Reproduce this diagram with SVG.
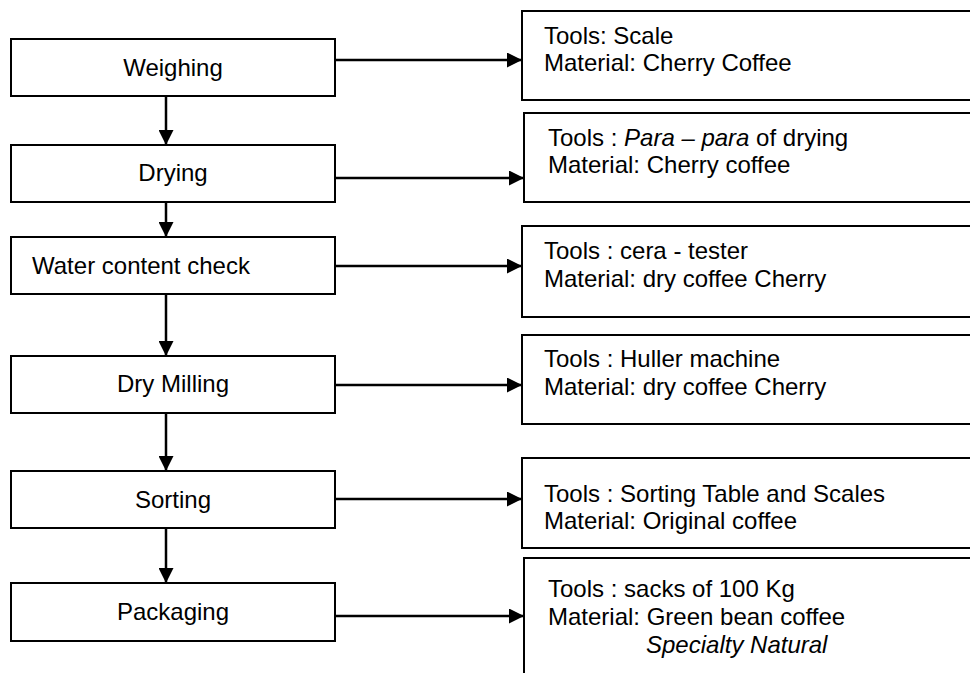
<svg xmlns="http://www.w3.org/2000/svg" width="970" height="673" viewBox="0 0 970 673">
<style>
.box{fill:#fff;stroke:#000;stroke-width:2}
.t{font-family:"Liberation Sans",Arial,sans-serif;font-size:24px;fill:#000}
.c{text-anchor:middle}
.conn{stroke:#000;stroke-width:2.5;fill:none}
</style>
<defs>
<marker id="ah" viewBox="0 0 10 10" refX="10" refY="5" markerUnits="userSpaceOnUse" markerWidth="15" markerHeight="15" orient="auto">
<path d="M0,0 L10,5 L0,10 z" fill="#000"/>
</marker>
</defs>
<rect width="970" height="673" fill="#fff"/>
<g id="connectors">
<line class="conn" x1="166" y1="96" x2="166" y2="145" marker-end="url(#ah)"/>
<line class="conn" x1="166" y1="202" x2="166" y2="237" marker-end="url(#ah)"/>
<line class="conn" x1="166" y1="294" x2="166" y2="356" marker-end="url(#ah)"/>
<line class="conn" x1="166" y1="413" x2="166" y2="471" marker-end="url(#ah)"/>
<line class="conn" x1="166" y1="528" x2="166" y2="583" marker-end="url(#ah)"/>
<line class="conn" x1="335" y1="60" x2="522" y2="60" marker-end="url(#ah)"/>
<line class="conn" x1="335" y1="178" x2="524" y2="178" marker-end="url(#ah)"/>
<line class="conn" x1="335" y1="266" x2="522" y2="266" marker-end="url(#ah)"/>
<line class="conn" x1="335" y1="385" x2="522" y2="385" marker-end="url(#ah)"/>
<line class="conn" x1="335" y1="499" x2="522" y2="499" marker-end="url(#ah)"/>
<line class="conn" x1="335" y1="616" x2="524" y2="616" marker-end="url(#ah)"/>
</g>
<g id="weighing"><rect class="box" x="11" y="39" width="324" height="57"/><text class="t c" x="173" y="76">Weighing</text></g>
<g id="drying"><rect class="box" x="11" y="145" width="324" height="57"/><text class="t c" x="173" y="181">Drying</text></g>
<g id="water"><rect class="box" x="11" y="237" width="324" height="57"/><text class="t" x="32" y="274">Water content check</text></g>
<g id="milling"><rect class="box" x="11" y="356" width="324" height="57"/><text class="t c" x="173" y="392">Dry Milling</text></g>
<g id="sorting"><rect class="box" x="11" y="471" width="324" height="57"/><text class="t c" x="173" y="508">Sorting</text></g>
<g id="packaging"><rect class="box" x="11" y="583" width="324" height="58"/><text class="t c" x="173" y="620">Packaging</text></g>
<g id="info1"><rect class="box" x="522" y="11" width="460" height="89"/><text class="t" x="544" y="44">Tools: Scale</text><text class="t" x="544" y="71">Material: Cherry Coffee</text></g>
<g id="info2"><rect class="box" x="524" y="113" width="460" height="89"/><text class="t" x="548" y="146">Tools : <tspan font-style="italic">Para – para</tspan> of drying</text><text class="t" x="548" y="173">Material: Cherry coffee</text></g>
<g id="info3"><rect class="box" x="522" y="226" width="460" height="91"/><text class="t" x="544" y="259">Tools : cera - tester</text><text class="t" x="544" y="287">Material: dry coffee Cherry</text></g>
<g id="info4"><rect class="box" x="522" y="335" width="460" height="89"/><text class="t" x="544" y="367">Tools : Huller machine</text><text class="t" x="544" y="395">Material: dry coffee Cherry</text></g>
<g id="info5"><rect class="box" x="522" y="458" width="460" height="90"/><text class="t" x="544" y="502">Tools : Sorting Table and Scales</text><text class="t" x="544" y="529">Material: Original coffee</text></g>
<g id="info6"><rect class="box" x="524" y="558" width="460" height="130"/><text class="t" x="548" y="597">Tools : sacks of 100 Kg</text><text class="t" x="548" y="625">Material: Green bean coffee</text><text class="t" x="646" y="653" font-style="italic">Specialty Natural</text></g>
</svg>
